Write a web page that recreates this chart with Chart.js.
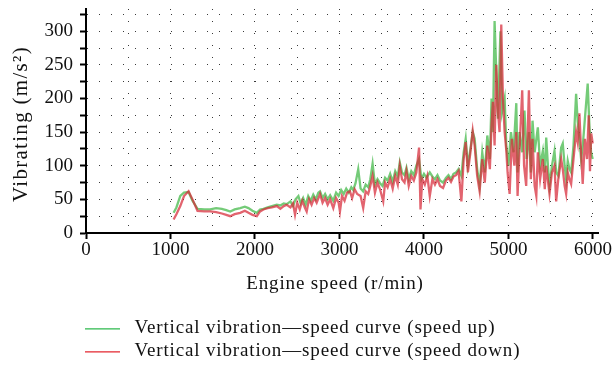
<!DOCTYPE html>
<html>
<head>
<meta charset="utf-8">
<script src="https://cdn.jsdelivr.net/npm/chart.js@4/dist/chart.umd.min.js"></script>
<style>
html,body{margin:0;padding:0;background:#fff;}
#wrap{width:613px;height:366px;position:relative;}
</style>
</head>
<body>
<div id="wrap"><canvas id="c" width="613" height="366"></canvas></div>
<script>
// ---- data ----
const seriesLabels = ['Vertical vibration\u2014speed curve (speed up)', 'Vertical vibration\u2014speed curve (speed down)'];
const xTickValues = [0, 500, 1000, 1500, 2000, 2500, 3000, 3500, 4000, 4500, 5000, 5500, 6000];
const yTickValues = [0, 25, 50, 75, 100, 125, 150, 175, 200, 225, 250, 275, 300, 325];

const speedUp = [1037,1070,1116,1160,1214,1260,1320,1400,1470,1540,1608,1660,1707,1760,1825,1880,1923,1970,2022,2060,2100,2150,2200,2258,2300,2340,2376,2420,2450,2480,2514,2540,2570,2600,2630,2660,2690,2720,2750,2770,2800,2830,2860,2890,2927,2960,2990,3020,3050,3080,3110,3140,3163,3190,3222,3250,3280,3310,3340,3365,3392,3420,3450,3480,3510,3540,3570,3600,3630,3660,3690,3714,3740,3770,3793,3820,3850,3880,3910,3942,3970,4000,4030,4069,4100,4130,4160,4190,4226,4260,4290,4320,4350,4380,4410,4443,4470,4494,4520,4550,4577,4600,4630,4659,4690,4720,4750,4780,4800,4816,4836,4856,4876,4905,4925,4955,4975,5000,5030,5060,5093,5108,5130,5163,5190,5215,5242,5265,5285,5310,5348,5375,5407,5430,5447,5470,5486,5515,5545,5565,5590,5624,5643,5665,5683,5702,5722,5742,5770,5801,5820,5840,5860,5880,5905,5938,5958,5978,5997];
const vibUp = [30,38,55,60,61,48,36,35,35,37,36,34,32,35,37,39,37,33,30,35,36,38,40,42,41,44,43,47,40,50,55,44,52,42,55,48,57,50,60,62,52,58,50,56,48,60,55,64,58,66,60,68,64,74,95,66,62,72,68,80,103,72,80,74,70,82,78,88,76,92,84,105,90,86,97,80,92,86,100,110,80,88,82,90,84,80,86,78,75,82,86,80,88,90,95,85,120,140,100,125,150,140,95,70,120,90,145,110,200,150,315,240,170,300,180,200,130,100,150,120,193,90,150,120,182,110,150,90,167,120,157,100,122,90,142,95,70,100,122,90,85,127,133,100,80,107,95,90,130,207,165,140,110,130,170,222,160,120,110];

const speedDown = [1037,1070,1116,1160,1214,1260,1320,1400,1470,1540,1608,1660,1707,1760,1825,1880,1923,1970,2022,2060,2100,2150,2200,2258,2300,2340,2376,2420,2450,2474,2500,2530,2560,2590,2612,2640,2670,2700,2730,2770,2800,2830,2860,2890,2927,2960,2990,3006,3030,3060,3090,3124,3150,3180,3210,3250,3281,3310,3340,3365,3392,3420,3450,3480,3518,3540,3570,3600,3630,3660,3690,3714,3740,3770,3793,3820,3850,3880,3910,3942,3959,3980,4010,4040,4069,4100,4130,4160,4190,4226,4260,4290,4320,4350,4380,4410,4443,4470,4494,4520,4550,4577,4600,4630,4659,4690,4720,4750,4780,4800,4816,4836,4856,4876,4895,4915,4935,4955,4975,4990,5014,5040,5070,5093,5108,5130,5163,5185,5210,5242,5265,5285,5310,5330,5348,5375,5407,5430,5447,5470,5486,5515,5545,5565,5590,5624,5643,5665,5683,5702,5722,5742,5770,5801,5820,5840,5860,5879,5905,5930,5950,5965,5980,5997];
const vibDown = [20,28,40,55,62,50,33,32,32,31,29,27,25,28,30,33,30,27,25,32,35,37,38,40,36,40,42,38,44,27,45,35,48,38,32,50,42,52,45,58,45,52,42,50,37,52,45,32,55,48,60,62,52,65,58,55,37,62,58,70,85,60,75,65,47,75,68,80,66,85,72,100,80,75,92,70,85,78,90,127,35,80,72,85,55,80,72,80,70,67,78,82,76,84,86,92,47,110,135,90,120,152,130,85,62,110,75,130,95,160,195,130,250,180,150,310,200,150,122,90,58,140,100,150,55,120,212,100,70,212,80,140,70,55,120,80,110,65,100,75,58,90,100,47,80,110,95,70,58,90,80,73,110,150,135,178,120,73,140,110,175,92,148,133];

const upColor = 'rgba(70,185,75,0.75)';
const downColor = 'rgba(215,40,55,0.72)';
const upLegendColor = '#2db84d';
const downLegendColor = '#e3262f';

function lineSample(color){
  const cv = document.createElement('canvas');
  cv.width = 40; cv.height = 2;
  const g = cv.getContext('2d');
  g.fillStyle = color;
  g.fillRect(0, 0, 35, 1.5);
  return cv;
}

const FONT = "'Liberation Serif', 'Times New Roman', serif";
const TEXT_SPACING = '0.85px';
const Y_TITLE_SPACING = '1.3px';

// place legend under the axis title and widen title / legend lettering
const layoutTweaks = {
  id: 'layoutTweaks',
  afterLayout(chart){
    const l = chart.legend;
    if (l) {
      const dx = 81 - l.left, dy = 315 - l.top;
      l.left += dx; l.right += dx; l.top += dy; l.bottom += dy;
      if (!l._spaced) {
        const orig = l.draw;
        l.draw = function(){ const c = this.ctx; c.save(); c.letterSpacing = TEXT_SPACING; orig.apply(this, arguments); c.restore(); };
        l._spaced = true;
      }
    }
    Object.values(chart.scales).forEach(s => {
      if (!s._spaced) {
        const origT = s.drawTitle;
        const horiz = s.isHorizontal();
        s.drawTitle = function(){
          const c = this.ctx; c.save();
          if (horiz) { c.letterSpacing = TEXT_SPACING; c.translate(-7, 0); }
          else { c.letterSpacing = Y_TITLE_SPACING; c.translate(0, 3); }
          origT.apply(this, arguments); c.restore();
        };
        s._spaced = true;
      }
    });
  }
};

new Chart(document.getElementById('c'), {
  type: 'line',
  data: {
    datasets: [
      { label: seriesLabels[0], data: speedUp.map((x,i)=>({x:x, y:vibUp[i]})),
        borderColor: upColor, borderWidth: 2.3, pointRadius: 0, tension: 0, order: 1 },
      { label: seriesLabels[1], data: speedDown.map((x,i)=>({x:x, y:vibDown[i]})),
        borderColor: downColor, borderWidth: 2.3, pointRadius: 0, tension: 0, order: 0 }
    ]
  },
  options: {
    responsive: false,
    animation: false,
    devicePixelRatio: 1,
    layout: { autoPadding: false, padding: { left: 0, right: 15, top: 9, bottom: 0 } },
    plugins: {
      tooltip: { enabled: false },
      legend: {
        position: 'bottom',
        align: 'start',
        labels: {
          font: { family: FONT, size: 19 },
          color: '#111',
          padding: 4,
          usePointStyle: true,
          pointStyleWidth: 40,
          generateLabels(chart){
            return [
              { text: seriesLabels[0], pointStyle: lineSample(upLegendColor), fillStyle: upLegendColor, strokeStyle: upLegendColor, lineWidth: 0, datasetIndex: 0, hidden: false, fontColor: '#111' },
              { text: seriesLabels[1], pointStyle: lineSample(downLegendColor), fillStyle: downLegendColor, strokeStyle: downLegendColor, lineWidth: 0, datasetIndex: 1, hidden: false, fontColor: '#111' }
            ];
          }
        }
      }
    },
    scales: {
      x: {
        type: 'linear',
        min: 0,
        max: 6060,
        afterBuildTicks(s){ s.ticks = xTickValues.map(v=>({value:v})); },
        afterFit(s){ s.height = 77; s.paddingLeft = 0; s.paddingRight = 0; },
        ticks: {
          font: { family: FONT, size: 19 },
          color: '#111',
          padding: 0,
          maxRotation: 0,
          autoSkip: false,
          callback: (v)=> (v % 1000 === 0 ? String(v) : '')
        },
        grid: {
          color: (ctx)=> (ctx.tick && ctx.tick.value === 0 ? 'rgba(0,0,0,0)' : '#3a3a3a'),
          lineWidth: 1,
          tickLength: 6,
          tickWidth: 2,
          tickColor: (ctx)=> (ctx.tick && ctx.tick.value % 1000 === 0 ? '#000' : 'rgba(0,0,0,0)'),
          tickBorderDash: []
        },
        border: { display: true, color: '#000', width: 2, dash: [1, 11], dashOffset: 0 },
        title: {
          display: true,
          text: 'Engine speed (r/min)',
          font: { family: FONT, size: 19 },
          color: '#111',
          padding: { top: 0, bottom: 15 }
        }
      },
      y: {
        type: 'linear',
        min: 0,
        max: 333,
        afterBuildTicks(s){ s.ticks = yTickValues.map(v=>({value:v})); },
        afterFit(s){ s.width = 86; s.paddingTop = 0; s.paddingBottom = 0; },
        ticks: {
          font: { family: FONT, size: 19 },
          color: '#111',
          padding: 7,
          autoSkip: false,
          callback: (v)=> (v % 50 === 0 ? String(v) : '')
        },
        grid: {
          color: (ctx)=> (ctx.tick && ctx.tick.value === 0 ? 'rgba(0,0,0,0)' : '#3a3a3a'),
          lineWidth: 1,
          tickLength: 6,
          tickWidth: 2,
          tickColor: '#000',
          tickBorderDash: []
        },
        border: { display: true, color: '#000', width: 2, dash: [1, 11], dashOffset: 0 },
        title: {
          display: true,
          text: 'Vibrating (m/s\u00b2)',
          font: { family: FONT, size: 21 },
          color: '#111',
          padding: { top: 9, bottom: 0 }
        }
      }
    }
  },
  plugins: [layoutTweaks]
});
</script>
</body>
</html>
